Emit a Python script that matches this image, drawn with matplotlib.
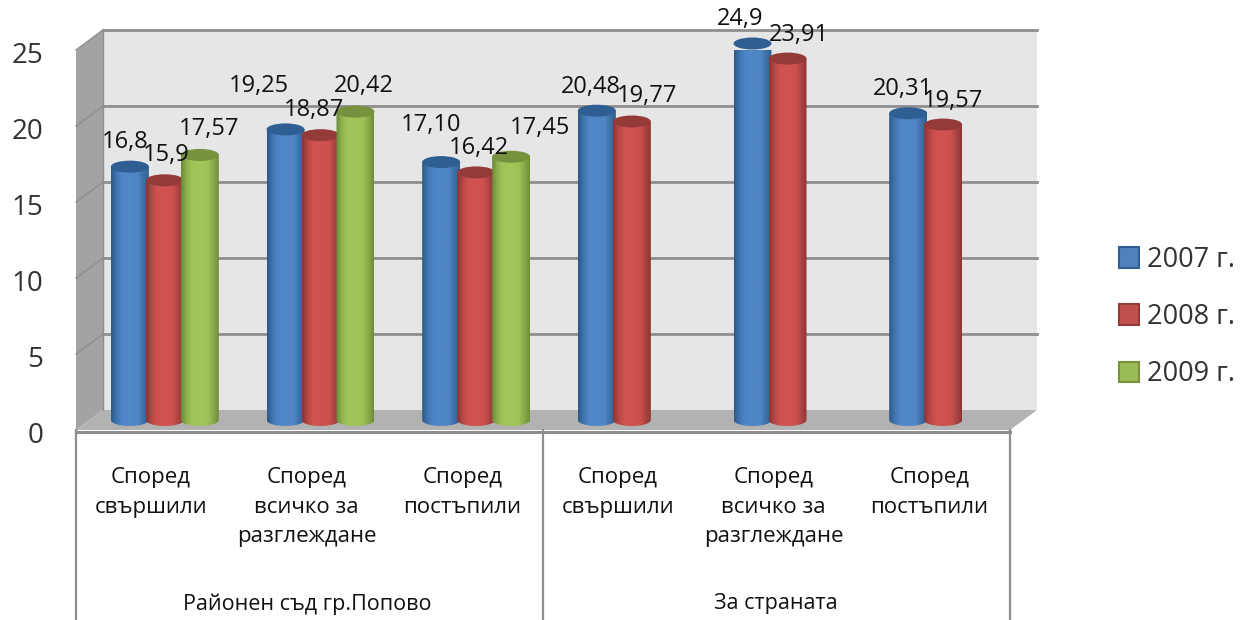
import numpy as np
import matplotlib
matplotlib.use("Agg")
import matplotlib.pyplot as plt
from matplotlib.colors import LinearSegmentedColormap
from matplotlib.patches import Ellipse, PathPatch, Patch, Polygon
from matplotlib.path import Path
from matplotlib.transforms import ScaledTranslation

plt.rcParams["font.family"] = ["Open Sans", "DejaVu Sans"]

# data
categories = ["Според\nсвършили", "Според\nвсичко за\nразглеждане", "Според\nпостъпили",
              "Според\nсвършили", "Според\nвсичко за\nразглеждане", "Според\nпостъпили"]
groups = ["Районен съд гр.Попово", "За страната"]
years = ["2007 г.", "2008 г.", "2009 г."]
v2007 = [16.8, 19.25, 17.10, 20.48, 24.9, 20.31]
v2008 = [15.9, 18.87, 16.42, 19.77, 23.91, 19.57]
v2009 = [17.57, 20.42, 17.45, None, None, None]
lab2007 = ["16,8", "19,25", "17,10", "20,48", "24,9", "20,31"]
lab2008 = ["15,9", "18,87", "16,42", "19,77", "23,91", "19,57"]
lab2009 = ["17,57", "20,42", "17,45", None, None, None]
yticks = [0, 5, 10, 15, 20, 25]

# label nudges in pixels, the chart's labels were placed by hand
off2007 = [(-5, 23), (-27, 41), (-10, 35), (-6, 22), (-12, 23), (-5, 22)]
off2008 = [(1, 23), (-6, 23), (3, 22), (15, 23), (11, 22), (10, 22)]
off2009 = [(9, 24), (8, 24), (29, 27), None, None, None]

W, H = 1245, 620
px_x = 155.7   # pixels per category
px_y = 15.2    # pixels per value unit
depth_x = 27 / px_x
depth_y = 20 / px_y
base = 10 / px_y
top_base = 8 / px_y
bar_shift = 11 / px_x
slot = 35 / px_x
half_w = 19 / px_x
cap_h = 6 / px_y

blue = ["#2c5a8a", "#4175b0", "#4f85c6", "#5088c9", "#4f86c6", "#4f85c4", "#3e70a8", "#2f5f92"]
red = ["#8a3432", "#b54846", "#cd524e", "#d0534f", "#cf524e", "#cc514d", "#ac4442", "#8b3634"]
green = ["#6a8a38", "#8fb14e", "#a1c459", "#a3c65a", "#a2c559", "#9fc157", "#8aaa4a", "#6e8d3b"]
caps = ["#2f5f92", "#943a38", "#76923c"]
edges = ["#2f5f92", "#943a38", "#76923c"]
fills = ["#4f81bd", "#c0504d", "#9bbb59"]

fig = plt.figure(figsize=(W / 100, H / 100), dpi=100)
ax = fig.add_axes([76 / W, 1 - 430 / H, 934 / W, 380 / H])
ax.set_xlim(-0.5, 5.5)
ax.set_ylim(0, 25)
for s in ax.spines.values():
    s.set_visible(False)

# walls and floor
left, right = -0.5, 5.5
top = 25
ax.add_patch(Polygon([(left, 0), (left + depth_x, depth_y), (left + depth_x, top + depth_y), (left, top)],
                     fc="#a3a3a3", ec="none", clip_on=False, zorder=1))
ax.add_patch(Polygon([(left + depth_x, depth_y), (right + depth_x, depth_y),
                      (right + depth_x, top + depth_y), (left + depth_x, top + depth_y)],
                     fc="#e6e6e6", ec="none", clip_on=False, zorder=1))
ax.add_patch(Polygon([(left, 0), (left + depth_x, depth_y), (right + depth_x, depth_y), (right, 0)],
                     fc="#b2b2b2", ec="none", clip_on=False, zorder=2))
for v in yticks[1:]:
    ax.plot([left + depth_x, right + depth_x], [v + depth_y, v + depth_y], color="#8e8e8e", lw=2, clip_on=False, zorder=2)
    ax.plot([left, left + depth_x], [v, v + depth_y], color="#8e8e8e", lw=1, clip_on=False, zorder=2)
ax.plot([left + depth_x, left + depth_x], [depth_y, top + depth_y], color="#8e8e8e", lw=1, clip_on=False, zorder=2)

# category table
bottom = -190 / px_y
ax.plot([left, right], [-0.12, -0.12], color="#8e8e8e", lw=2.2, clip_on=False, zorder=3)
for x in [left, 2.5, right]:
    ax.plot([x, x], [0, bottom], color="#8e8e8e", lw=1.6, clip_on=False, zorder=3)


def cylinder(x, v, shades, cap, z):
    cmap = LinearSegmentedColormap.from_list("c", shades)
    cy = top_base + v
    im = ax.imshow(np.linspace(0, 1, 64).reshape(1, -1), cmap=cmap, aspect="auto", zorder=z,
                   extent=[x - half_w, x + half_w, base - cap_h, cy])
    t = np.linspace(np.pi, 2 * np.pi, 30)
    bx = x + half_w * np.cos(t)
    by = base + cap_h * np.sin(t)
    verts = list(zip(bx, by)) + [(x + half_w, cy), (x - half_w, cy), (bx[0], by[0])]
    clip = PathPatch(Path(verts), transform=ax.transData, fc="none", ec="none")
    ax.add_patch(clip)
    clip.set_clip_on(False)
    im.set_clip_box(None)
    im.set_clip_path(clip)
    ax.add_patch(Ellipse((x, cy), 2 * half_w, 2 * cap_h, fc=cap, ec="none", zorder=z, clip_on=False))


series = [(v2007, lab2007, off2007, blue), (v2008, lab2008, off2008, red), (v2009, lab2009, off2009, green)]
for k, (vals, labs, offs, shades) in enumerate(series):
    for i, v in enumerate(vals):
        if v is None:
            continue
        x = i + bar_shift + (k - 1) * slot
        cylinder(x, v, shades, caps[k], 5 + k)
        ax.annotate(labs[i], xy=(x, base + v), xytext=offs[i], textcoords="offset pixels",
                    ha="center", va="center", fontsize=17, color="#111111", zorder=10,
                    annotation_clip=False)
ax.set_xlim(-0.5, 5.5)
ax.set_ylim(0, 25)

ax.set_yticks(yticks)
ax.tick_params(axis="y", length=0, pad=23.5, labelsize=20, labelcolor="#333333")
for lab in ax.get_yticklabels():
    lab.set_transform(lab.get_transform() + ScaledTranslation(0, -2 / 72, fig.dpi_scale_trans))
ax.set_xticks(range(6))
ax.set_xticklabels(categories, fontsize=16, color="#111111", linespacing=1.55)
ax.tick_params(axis="x", length=0, pad=26.5)
for lab in ax.get_xticklabels():
    lab.set_transform(lab.get_transform() + ScaledTranslation(-2 / 72, 0, fig.dpi_scale_trans))

ax.text(1 - 2 / px_x, -174 / px_y, groups[0], ha="center", va="center", fontsize=15.5, color="#111111", clip_on=False)
ax.text(4 - 1 / px_x, -174 / px_y, groups[1], ha="center", va="center", fontsize=15.5, color="#111111", clip_on=False)

handles = [Patch(fc=fills[k], ec=edges[k], lw=1.5) for k in range(3)]
fig.legend(handles, years, loc="center left", bbox_to_anchor=(1119 / W, 1 - 317 / H), frameon=False,
           fontsize=19.5, labelcolor="#333333", borderpad=0, borderaxespad=0, handlelength=0.72,
           handleheight=0.78, handletextpad=0.3, labelspacing=1.08)

fig.savefig("out.png", dpi=100)
